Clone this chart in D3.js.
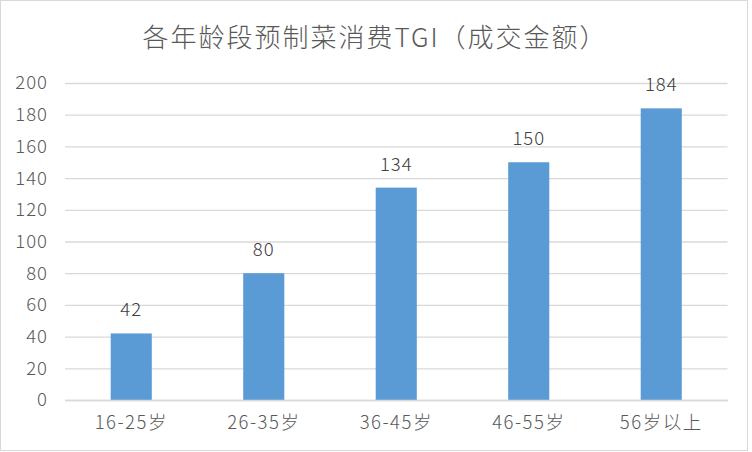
<!DOCTYPE html>
<html><head><meta charset="utf-8">
<script src="https://cdn.jsdelivr.net/npm/d3@7/dist/d3.min.js"></script>
<style>html,body{margin:0;padding:0;background:#fff;}svg{display:block;}</style>
</head><body>
<script>
const title = "各年龄段预制菜消费TGI（成交金额）";
const categories = ["16-25岁", "26-35岁", "36-45岁", "46-55岁", "56岁以上"];
const values = [42, 80, 134, 150, 184];
const yTicks = [0, 20, 40, 60, 80, 100, 120, 140, 160, 180, 200];

const W = 752, H = 452;
const font = "'Noto Sans CJK SC', 'Noto Sans', sans-serif";
const svg = d3.select("body").append("svg").attr("width", W).attr("height", H);
svg.append("rect").attr("x", 0.5).attr("y", 0.5).attr("width", 747).attr("height", 450)
  .attr("fill", "#fff").attr("stroke", "#d9d9d9").attr("stroke-width", 1);

const x = d3.scaleBand().domain(categories).range([65, 727.5]).paddingInner(0.69).paddingOuter(0.345);
const y = d3.scaleLinear().domain([0, 200]).range([400, 83]);

const numStyle = sel => sel.style("font-family", font).style("font-size", "18.5px")
  .style("font-weight", 300).style("letter-spacing", "1px");

// gridlines
const yAxis = d3.axisLeft(y).tickValues(yTicks).tickSize(-(727.5 - 65)).tickPadding(17);
const gy = svg.append("g").attr("transform", "translate(65,0)").call(yAxis);
gy.select(".domain").remove();
gy.selectAll(".tick line").attr("stroke", "#d9d9d9").attr("stroke-width", 1.3);
gy.selectAll(".tick text").attr("fill", "#595959").call(numStyle);

svg.append("g").selectAll("rect").data(values).join("rect")
  .attr("x", (d, i) => x(categories[i]))
  .attr("width", x.bandwidth())
  .attr("y", d => y(d))
  .attr("height", d => y(0) - y(d))
  .attr("fill", "#5b9bd5");

const xAxis = d3.axisBottom(x).tickSize(0).tickPadding(16);
const gx = svg.append("g").attr("transform", "translate(0,400)").call(xAxis);
gx.select(".domain").attr("stroke", "#d9d9d9").attr("stroke-width", 1.5);
gx.selectAll(".tick text").attr("fill", "#595959").call(numStyle).style("letter-spacing", "1.5px");

svg.append("g").selectAll("text").data(values).join("text")
  .attr("x", (d, i) => x(categories[i]) + x.bandwidth() / 2)
  .attr("y", d => y(d) - 17)
  .attr("text-anchor", "middle")
  .attr("fill", "#404040")
  .call(numStyle)
  .text(d => d);

svg.append("text").attr("x", 375).attr("y", 47).attr("text-anchor", "middle")
  .attr("fill", "#595959").style("font-family", font).style("font-size", "26px")
  .style("font-weight", 300).style("letter-spacing", "2px")
  .text(title);
</script>
</body></html>
